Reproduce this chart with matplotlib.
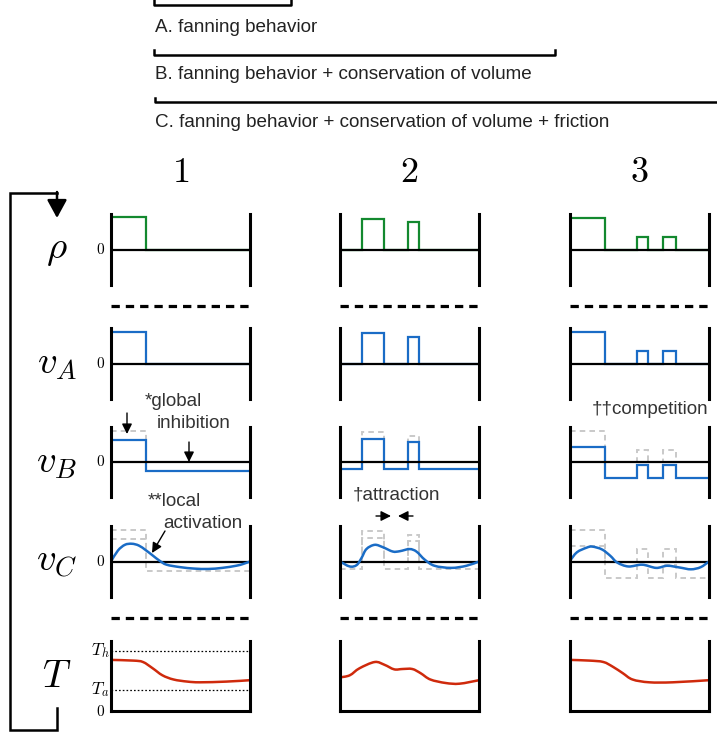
import numpy as np
import matplotlib.pyplot as plt
from matplotlib.path import Path
from matplotlib.patches import PathPatch

plt.rcParams['mathtext.fontset'] = 'cm'
plt.rcParams['lines.scale_dashes'] = False

W, H = 717, 733

# ---- data (x runs 0..10 across each panel) ----
col_titles = ['1', '2', '3']
row_labels = [r'$\rho$', r'$v_A$', r'$v_B$', r'$v_C$', r'$T$']
models = ['A. fanning behavior',
          'B. fanning behavior + conservation of volume',
          'C. fanning behavior + conservation of volume + friction']

edges = [[0, 2.5, 10],
         [0, 1.6, 3.15, 4.9, 5.7, 10],
         [0, 2.5, 4.8, 5.6, 6.7, 7.6, 10]]
rho = [[0.91, 0],
       [0, 0.86, 0, 0.77, 0],
       [0.89, 0, 0.34, 0, 0.34, 0]]
vA = [[0.89, 0],
      [0, 0.86, 0, 0.74, 0],
      [0.89, 0, 0.34, 0, 0.34, 0]]
vB = [[0.63, -0.26],
      [-0.2, 0.66, -0.2, 0.57, -0.2],
      [0.43, -0.46, -0.09, -0.46, -0.09, -0.46]]

vC_x = [[0, 0.5, 1, 1.5, 2, 2.5, 3, 3.5, 4, 5, 6, 7, 8, 9, 9.5, 10],
        [0, 0.7, 1.2, 1.55, 1.9, 2.5, 3.1, 3.8, 4.3, 5.0, 5.5, 6.1, 6.8, 8.0, 9.1, 10],
        [0, 0.5, 1.2, 1.6, 2.3, 2.9, 3.4, 4.2, 5.2, 6.2, 7.0, 7.9, 8.7, 9.4, 10]]
vC_y = [[0, 0.31, 0.47, 0.5, 0.45, 0.32, 0.17, 0.02, -0.09, -0.16, -0.2, -0.21, -0.18, -0.12, -0.07, 0],
        [0, -0.14, -0.1, 0.1, 0.35, 0.47, 0.4, 0.28, 0.29, 0.35, 0.28, 0.05, -0.12, -0.18, -0.12, 0],
        [0.02, 0.26, 0.39, 0.42, 0.34, 0.16, -0.03, -0.14, -0.09, -0.18, -0.12, -0.17, -0.22, -0.16, 0]]

T_x = [[0, 1.6, 2.3, 3.0, 3.7, 4.5, 5.5, 6.4, 8.3, 10],
       [0, 0.7, 1.4, 2.5, 3.2, 3.9, 4.5, 5.2, 5.8, 6.5, 7.6, 8.6, 10],
       [0, 1.4, 2.4, 3.1, 3.8, 4.5, 5.7, 7.4, 10]]
T_y = [[0.73, 0.72, 0.70, 0.61, 0.51, 0.45, 0.42, 0.41, 0.42, 0.44],
       [0.48, 0.51, 0.61, 0.70, 0.66, 0.595, 0.60, 0.60, 0.54, 0.45, 0.40, 0.39, 0.44],
       [0.73, 0.72, 0.70, 0.63, 0.54, 0.45, 0.41, 0.41, 0.44]]
T_h, T_a = 0.86, 0.30

GREEN, BLUE, RED, GHOST = '#13892f', '#1a6cc6', '#cf2a0c', '#c9c9c9'

# ---- layout (pixels) ----
left = [111, 340, 570]
pw = 139
row_px = [(214, 285), (328, 399), (427, 497), (526, 597), (641, 711)]
label_y = [249, 363, 462, 561, 676]

fig = plt.figure(figsize=(W / 100, H / 100), dpi=100)
ov = fig.add_axes([0, 0, 1, 1], zorder=10)
ov.set_xlim(0, W)
ov.set_ylim(H, 0)
ov.axis('off')


def smooth(ax, xs, ys, color):
    # curve through the read points, drawn as cubic bezier segments
    p = np.column_stack([xs, ys])
    pad = np.vstack([p[0], p, p[-1]])
    verts = [p[0]]
    codes = [Path.MOVETO]
    for i in range(len(p) - 1):
        c1 = pad[i + 1] + (pad[i + 2] - pad[i]) / 6
        c2 = pad[i + 2] - (pad[i + 3] - pad[i + 1]) / 6
        verts += [c1, c2, pad[i + 2]]
        codes += [Path.CURVE4] * 3
    ax.add_patch(PathPatch(Path(verts, codes), fill=False, edgecolor=color,
                           lw=1.8, zorder=6, capstyle='round'))


def panel(ci, ri, ylim):
    top, bot = row_px[ri]
    ax = fig.add_axes([left[ci] / W, 1 - bot / H, pw / W, (bot - top) / H])
    ax.set_xlim(0, 10)
    ax.set_ylim(*ylim)
    ax.axis('off')
    for xv in (0, 10):
        ax.axvline(xv, color='k', lw=2.2, clip_on=False, zorder=7)
    return ax


for ci in range(3):
    # rho
    ax = panel(ci, 0, (-1, 1))
    ax.stairs(rho[ci], edges[ci], baseline=None, color=GREEN, lw=1.6)
    ax.axhline(0, color='k', lw=1.6, zorder=4)
    # v_A
    ax = panel(ci, 1, (-1, 1))
    ax.stairs(vA[ci], edges[ci], baseline=None, color=BLUE, lw=1.6)
    ax.axhline(0, color='k', lw=1.6, zorder=4)
    # v_B
    ax = panel(ci, 2, (-1, 1))
    ax.stairs(vA[ci], edges[ci], baseline=None, color=GHOST, lw=1.4,
              ls=(0, (4, 3)))
    ax.stairs(vB[ci], edges[ci], baseline=None, color=BLUE, lw=1.6)
    ax.axhline(0, color='k', lw=1.6, zorder=4)
    # v_C
    ax = panel(ci, 3, (-1, 1))
    ax.stairs(vA[ci], edges[ci], baseline=None, color=GHOST, lw=1.4,
              ls=(0, (4, 3)))
    ax.stairs(vB[ci], edges[ci], baseline=None, color=GHOST, lw=1.4,
              ls=(0, (4, 3)))
    ax.axhline(0, color='k', lw=1.6, zorder=4)
    smooth(ax, vC_x[ci], vC_y[ci], BLUE)
    # T
    ax = panel(ci, 4, (0, 1))
    ax.axhline(0, color='k', lw=2.2, clip_on=False, zorder=7)
    smooth(ax, T_x[ci], T_y[ci], RED)
    if ci == 0:
        for lvl, name in ((T_h, r'$T_h$'), (T_a, r'$T_a$')):
            ax.axhline(lvl, color='k', lw=0.9, ls=(0, (1.2, 1.5)))
            ax.text(-0.1, lvl, name, ha='right', va='center', fontsize=12.5,
                    clip_on=False)
        ax.text(-0.4, 0, r'$0$', ha='right', va='center', fontsize=11,
                clip_on=False)

    # dashed separators
    for y in (306, 618):
        ov.plot([left[ci], left[ci] + pw], [y, y], color='k', lw=2.3,
                dashes=(6, 4.3))
    ov.text(left[ci] + pw / 2, 172, r'$%s$' % col_titles[ci], ha='center',
            va='center', fontsize=26)

# zero labels for the first column
for ri in range(4):
    ov.text(105, sum(row_px[ri]) / 2, r'$0$', ha='right', va='center',
            fontsize=11)

for lab, y in zip(row_labels, label_y):
    ov.text(57, y, lab, ha='center', va='center', fontsize=28)

# model brackets + descriptions
ov.plot([154, 154, 291, 291], [0, 5, 5, 0], color='k', lw=1.8)
ov.plot([154, 154, 555, 555], [50, 54.5, 54.5, 50], color='k', lw=1.8)
ov.plot([155, 155, 717], [98, 102, 102], color='k', lw=1.8)
for txt, y in zip(models, (32, 79, 127)):
    ov.text(155, y, txt, ha='left', va='baseline', fontsize=13.6,
            family='Liberation Sans', color='#222222')

# feedback loop
ov.plot([57, 57, 10, 10, 57], [708, 730, 730, 193, 193], color='k', lw=1.8,
        solid_joinstyle='miter')
ov.annotate('', xy=(57, 218), xytext=(57, 192),
            arrowprops=dict(arrowstyle='-|>,head_length=0.55,head_width=0.3',
                            color='k', lw=1.8, mutation_scale=20,
                            shrinkA=0, shrinkB=0))

# annotations
note = dict(ha='left', va='center', fontsize=13.6, family='Liberation Sans',
            color='#333333')
ov.text(145, 402, '*global', **note)
ov.text(157, 423, 'inhibition', **note)
ov.text(148, 502, '**local', **note)
ov.text(163, 524, 'activation', **note)
ov.text(353, 495, '\u2020attraction', **note)
ov.text(592, 410, '\u2020\u2020competition', **note)

small = dict(arrowstyle='-|>,head_length=0.5,head_width=0.25', color='k',
             lw=1.0, mutation_scale=12, shrinkA=0, shrinkB=0)
for start, end in (((127, 413), (127, 434)), ((189, 442), (189, 462)),
                   ((165, 531), (152, 553)), ((376, 516), (391, 516)),
                   ((413, 516), (398, 516))):
    ov.annotate('', xy=end, xytext=start, arrowprops=small)

fig.savefig('out.png', dpi=100)
